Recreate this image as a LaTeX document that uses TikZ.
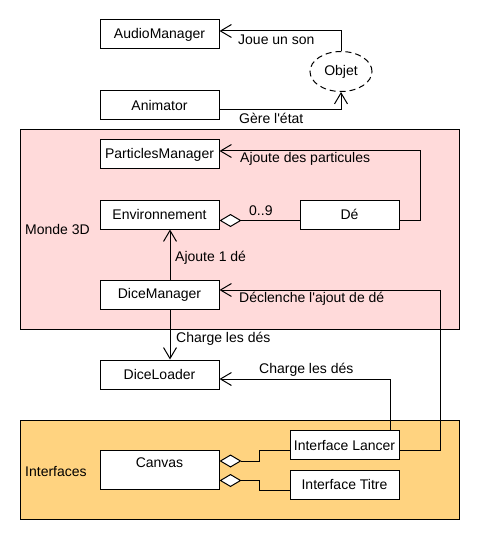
\documentclass[tikz,border=0pt]{standalone}
\usepackage{fontspec}
\setmainfont{Liberation Sans}
\usetikzlibrary{arrows.meta,shapes.geometric,calc}
\definecolor{mondepink}{RGB}{255,218,218}
\definecolor{interorange}{RGB}{255,211,128}
\begin{document}
\begin{tikzpicture}[x=1pt,y=-1pt,
  every node/.style={font=\fontsize{14}{16}\selectfont},
  box/.style={draw, line width=1pt, fill=white, minimum width=119pt, minimum height=29pt, inner sep=0pt},
  smallbox/.style={box, minimum width=109pt},
  lbl/.style={anchor=west, inner sep=0pt},
  arr/.style={line width=1pt, -{Straight Barb[length=11pt,width=13pt,line width=1pt]}},
  diam/.style={line width=1pt, -{Diamond[length=22pt,width=13pt,fill=white,line width=1pt]}},
  container/.style={draw, line width=1pt}]
\useasboundingbox (0,0) rectangle (480,540);

% containers
\draw[container, fill=mondepink] (20,130) rectangle (459,329);
\draw[container, fill=interorange] (20,420) rectangle (459,519);
\node[lbl] (mondelbl) at (25,229) {Monde 3D};
\node[lbl] (interlbl) at (25,471) {Interfaces};

% boxes
\node[box] (audio) at (159.5,34.5) {AudioManager};
\node[box] (animator) at (159.5,105) {Animator};
\node[draw, dashed, dash pattern=on 6pt off 4pt, line width=1pt, ellipse, minimum width=62pt, minimum height=40pt, inner sep=0pt] (objet) at (341,71.5) {Objet};
\node[box] (particles) at (159.5,154.5) {ParticlesManager};
\node[box] (env) at (159.5,214.5) {Environnement};
\node[box, minimum width=99pt] (de) at (349.5,214.5) {Dé};
\node[box] (dicemgr) at (159.5,294.5) {DiceManager};
\node[box] (diceloader) at (159.5,374.5) {DiceLoader};
\node[box, minimum height=39pt] (canvas) at (159.5,469.5) {};
\node[inner sep=0pt] (canvastext) at (159.5,463) {Canvas};
\node[smallbox] (lancer) at (344.5,445) {Interface Lancer};
\node[smallbox] (titre) at (344.5,484.5) {Interface Titre};

% connectors
\draw[arr] (objet.north) |- ([yshift=3.5pt]audio.east);
\draw[arr] ([yshift=-5pt]animator.east) -| (objet.south);
\draw[arr] ([yshift=-5.5pt]de.east) -- ++(21,0) |- ([yshift=3.5pt]particles.east);
\draw[diam] ([yshift=-6pt]de.west) -- ([yshift=-6pt]env.east);
\draw[arr] ([xshift=10.5pt]dicemgr.north) -- ([xshift=10.5pt]env.south);
\draw[arr] ([xshift=10.5pt]dicemgr.south) -- ([xshift=10.5pt]diceloader.north);
\draw[arr] ([yshift=-5pt]lancer.east) -- ++(41,0) |- ([yshift=4.5pt]dicemgr.east);
\draw[arr] ([xshift=45.5pt]lancer.north) |- ([yshift=-4.5pt]diceloader.east);
\draw[diam] ([yshift=-5pt]lancer.west) -- ++(-30,0) |- ([yshift=8.5pt]canvas.east);
\draw[diam] ([yshift=-6pt]titre.west) -- ++(-30,0) |- ([yshift=-11pt]canvas.east);

% labels
\node[lbl] (l1) at (238,40) {Joue un son};
\node[lbl] (l2) at (239,118) {Gère l\textquotesingle état};
\node[lbl] (l3) at (240,159) {Ajoute des particules};
\node[lbl] (l4) at (249,210.5) {0..9};
\node[lbl] (l5) at (175,258) {Ajoute 1 dé};
\node[lbl] (l6) at (239,299) {Déclenche l\textquotesingle ajout de dé};
\node[lbl] (l7) at (176,339) {Charge les dés};
\node[lbl] (l8) at (259,370) {Charge les dés};
\end{tikzpicture}
\end{document}
